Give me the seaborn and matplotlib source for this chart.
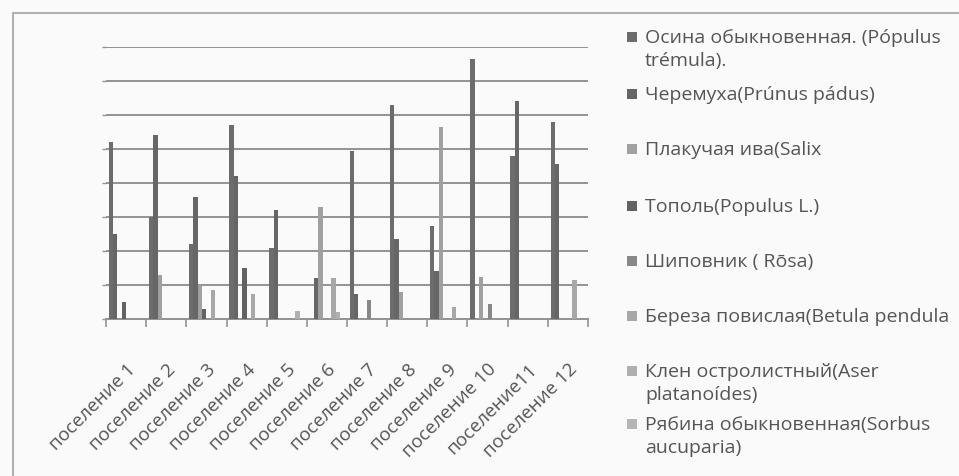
import numpy as np
import pandas as pd
import matplotlib
matplotlib.use("Agg")
import matplotlib.pyplot as plt
from matplotlib.lines import Line2D
from matplotlib.patches import Rectangle
import seaborn as sns

# Settlements on the x axis
settlements = ["поселение 1", "поселение 2", "поселение 3", "поселение 4",
               "поселение 5", "поселение 6", "поселение 7", "поселение 8",
               "поселение 9", "поселение 10", "поселение11", "поселение 12"]

# Tree / shrub species (legend order)
species = ["Осина обыкновенная. (Pópulus\ntrémula).",
           "Черемуха(Prúnus pádus)",
           "Плакучая ива(Salix",
           "Тополь(Populus L.)",
           "Шиповник ( Rōsa)",
           "Береза повислая(Betula pendula",
           "Клен остролистный(Aser\nplatanoídes)",
           "Рябина обыкновенная(Sorbus\naucuparia)"]

# Counts per settlement for every species
osina    = [5.2, 3.0, 2.2, 5.7, 2.1, 0.0, 4.95, 6.3, 2.75, 7.65, 4.8, 5.8]
cheremuha = [2.5, 5.4, 3.6, 4.2, 3.2, 1.2, 0.75, 2.35, 1.4, 0.0, 6.4, 4.55]
iva      = [0.0, 1.3, 1.0, 0.0, 0.0, 3.3, 0.0, 0.8, 5.65, 1.25, 0.0, 0.0]
topol    = [0.5, 0.0, 0.3, 1.5, 0.0, 0.0, 0.0, 0.0, 0.0, 0.0, 0.0, 0.0]
shipovnik = [0.0, 0.0, 0.0, 0.0, 0.0, 0.0, 0.55, 0.0, 0.0, 0.45, 0.0, 0.0]
bereza   = [0.0, 0.0, 0.85, 0.75, 0.0, 1.2, 0.0, 0.0, 0.35, 0.0, 0.0, 1.15]
klen     = [0.0, 0.0, 0.0, 0.0, 0.25, 0.2, 0.0, 0.0, 0.0, 0.0, 0.0, 0.0]
ryabina  = [0.0] * 12

series = [osina, cheremuha, iva, topol, shipovnik, bereza, klen, ryabina]
colors = ["#6c6c6c", "#666666", "#a0a0a0", "#626262",
          "#888888", "#a8a8a8", "#afafaf", "#b5b5b5"]

rows = []
for sp, vals in zip(species, series):
    for st, v in zip(settlements, vals):
        rows.append({"settlement": st, "species": sp, "value": v})
df = pd.DataFrame(rows)

W, H = 959, 477
sns.set_theme(style="white")
plt.rcParams["font.family"] = ["Open Sans", "DejaVu Sans"]

fig = plt.figure(figsize=(W / 100, H / 100), dpi=100)
fig.patch.set_facecolor("#fafafa")


def fx(x):
    return x / W


def fy(y):
    return 1 - y / H


ax = fig.add_axes([fx(106), fy(320), fx(588) - fx(106), fy(48) - fy(320)])
ax.set_facecolor("none")

sns.barplot(data=df, x="settlement", y="value", hue="species",
            hue_order=species, order=settlements, palette=colors,
            width=0.86, saturation=1, errorbar=None, linewidth=0,
            legend=False, ax=ax, zorder=3)

ax.set_xlim(-0.5, len(settlements) - 0.5)
ax.set_ylim(0, 8)
ax.set_xlabel("")
ax.set_ylabel("")

# horizontal gridlines
ax.set_yticks(np.arange(0, 9, 1))
ax.set_yticklabels([])
ax.yaxis.grid(True, color="#939393", linewidth=1.4, zorder=0)
ax.tick_params(axis="y", length=3, width=1, color="#939393", left=True)

# category boundaries as tick marks, names at centres
ax.set_xticks(np.arange(-0.5, len(settlements), 1), minor=True)
ax.set_xticks(np.arange(len(settlements)))
ax.set_xticklabels(settlements, rotation=45, ha="right",
                   rotation_mode="anchor", fontsize=13.5, color="#555555")
ax.tick_params(axis="x", which="major", length=0, pad=29)
ax.tick_params(axis="x", which="minor", length=6, width=1.2,
               color="#939393", bottom=True, direction="out")

for side in ["top", "right", "left"]:
    ax.spines[side].set_visible(False)
ax.spines["bottom"].set_color("#939393")
ax.spines["bottom"].set_linewidth(1.4)

# chart frame (left and top edges)
fig.add_artist(Line2D([fx(13), fx(13), fx(959)], [fy(477), fy(14), fy(14)],
                      color="#b0b0b0", linewidth=1.5))

# legend: one slot per species
first_line_y = [38, 95, 150, 207, 262, 317, 372, 425]
for sp, col, y0 in zip(species, colors, first_line_y):
    lines = sp.split("\n")
    fig.add_artist(Rectangle((fx(627), fy(y0 + 5)), 10 / W, 10 / H,
                             facecolor=col, edgecolor="none"))
    for k, line in enumerate(lines):
        fig.text(fx(645), fy(y0 + 23 * k), line, fontsize=14,
                 color="#555555", ha="left", va="center")

fig.savefig("out.png", dpi=100, facecolor=fig.get_facecolor())
